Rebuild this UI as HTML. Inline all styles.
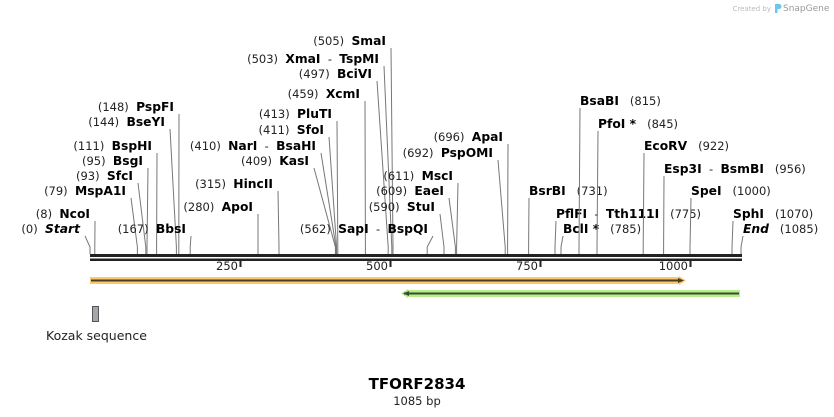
<!DOCTYPE html>
<html><head><meta charset="utf-8">
<style>
html,body{margin:0;padding:0;background:#fff;}
svg{display:block;font-family:"DejaVu Sans","Liberation Sans",sans-serif;}
.num{font-size:11.5px;fill:#222;}
.nm{font-size:12.3px;font-weight:bold;fill:#000;}
</style></head>
<body>
<svg id="map" width="834" height="417" viewBox="0 0 834 417" xmlns="http://www.w3.org/2000/svg">
<g id="sites"></g>
<g id="axis"></g>
<g>
<polygon points="90,277 679,277 679,276 686,280.5 679,285 679,284 90,284" fill="#fbc76f"/>
<line x1="91" y1="280.5" x2="682" y2="280.5" stroke="#4b3d22" stroke-width="2"/>
<polygon points="678,278 684,280.5 678,283" fill="#4b3d22"/>
</g>
<g>
<polygon points="401,293.5 408,289 408,290 740,290 740,297 408,297 408,298" fill="#b5ef86"/>
<line x1="404" y1="293.5" x2="739" y2="293.5" stroke="#3e4a35" stroke-width="2"/>
<polygon points="403,293.5 409,291 409,296" fill="#3e4a35"/>
</g>
<rect x="92.5" y="306.5" width="6" height="15" fill="#a3a7ad" stroke="#555"/>
<text x="46" y="340" font-size="12.5" fill="#222">Kozak sequence</text>
<text x="417" y="389" text-anchor="middle" font-size="15" font-weight="bold">TFORF2834</text>
<text x="417" y="405" text-anchor="middle" font-size="11.5" fill="#222">1085 bp</text>
<g>
<text x="771" y="11" text-anchor="end" font-size="7" fill="#bbb">Created by</text>
<path d="M775,4 h4 a2.5,2.5 0 0 1 0,5 h-1.5 v4 h-2.5z" fill="#6cc7f0"/>
<text x="783" y="11" font-size="9" fill="#999">SnapGene</text>
</g>
</svg>
<script>
var siteNames=["Start","NcoI","MspA1I","SfcI","BsgI","BspHI","BseYI","PspFI","BbsI","ApoI","HincII","KasI","NarI  -  BsaHI","SfoI","PluTI","XcmI","BciVI","XmaI  -  TspMI","SmaI","SapI  -  BspQI","StuI","EaeI","MscI","PspOMI","ApaI","BsrBI","PflFI  -  Tth111I","BclI *","BsaBI","PfoI *","EcoRV","Esp3I  -  BsmBI","SpeI","SphI","End"];
var sitePositions=[0,8,79,93,95,111,144,148,167,280,315,409,410,411,413,459,497,503,505,562,590,609,611,692,696,731,775,785,815,845,922,956,1000,1070,1085];
var labelSide=["L","L","L","L","L","L","L","L","L","L","L","L","L","L","L","L","L","L","L","L","L","L","L","L","L","R","R","R","R","R","R","R","R","R","R"];
var labelAnchorX=[80,90,126,133,143,152,165,174,186,253,273,309,316,324,332,360,372,379,386,428,435,444,453,493,503,529,556,563,580,598,644,664,691,733,743];
var labelBaseY=[233,218,195,180,165,150,126,111,233,211,188,165,150,134,118,98,78,63,45,233,211,195,180,157,141,195,218,233,105,128,150,173,195,218,233];
var tickValues=[250,500,750,1000];
var seqLength=1085;

var NS="http://www.w3.org/2000/svg";
function x(bp){return 90+bp*(651/seqLength);}
var sites=document.getElementById('sites');
var axis=document.getElementById('axis');
function mk(tag,attrs,parent){var e=document.createElementNS(NS,tag);for(var k in attrs)e.setAttribute(k,attrs[k]);parent.appendChild(e);return e;}

for(var i=0;i<siteNames.length;i++){
  var g=mk('g',{},sites);
  
  
  var sx=x(sitePositions[i]);
  var ax=labelSide[i]==="L"?labelAnchorX[i]+5:labelAnchorX[i];
  var ay=labelBaseY[i]+3;
  var pl=mk('polyline',{points:ax+','+ay+' '+sx+','+247+' '+sx+','+254,fill:'none',stroke:'#777','stroke-width':1},g);
  
  
  var italic=(siteNames[i]==="Start"||siteNames[i]==="End");
  var t=mk('text',{y:labelBaseY[i]},g);
  
  
  var parts=siteNames[i].split('  -  ');
  function addName(parent){
    for(var p=0;p<parts.length;p++){
      if(p>0){var d=mk('tspan',{'class':'num'},parent);d.textContent='  -  ';}
      var s=mk('tspan',{'class':'nm'},parent);if(italic)s.setAttribute('font-style','italic');s.textContent=parts[p];
    }
  }
  t.setAttribute('style','white-space:pre');
  if(labelSide[i]==="L"){
    t.setAttribute('x',labelAnchorX[i]);t.setAttribute('text-anchor','end');
    var n=mk('tspan',{'class':'num'},t);n.textContent='('+sitePositions[i]+')  ';
    addName(t);
  } else {
    t.setAttribute('x',labelAnchorX[i]);
    addName(t);
    var n2=mk('tspan',{'class':'num'},t);n2.textContent='   ('+sitePositions[i]+')';
  }
}
var b1=mk('rect',{x:x(0),y:254,width:x(seqLength)-x(0)+1,height:3,fill:'#222'},axis);


var b2=mk('rect',{x:x(0),y:258.5,width:x(seqLength)-x(0)+1,height:2.5,fill:'#222'},axis);


for(var j=0;j<tickValues.length;j++){
  var tx=x(tickValues[j]);
  var tk=mk('rect',{x:tx-0.5,y:260,width:2,height:7,fill:'#222'},axis);
  
  
  var tl=mk('text',{x:tx-2,y:270,'text-anchor':'end','font-size':11.5,fill:'#222'},axis);
  
  
  tl.textContent=tickValues[j];
}
</script>
</body></html>
